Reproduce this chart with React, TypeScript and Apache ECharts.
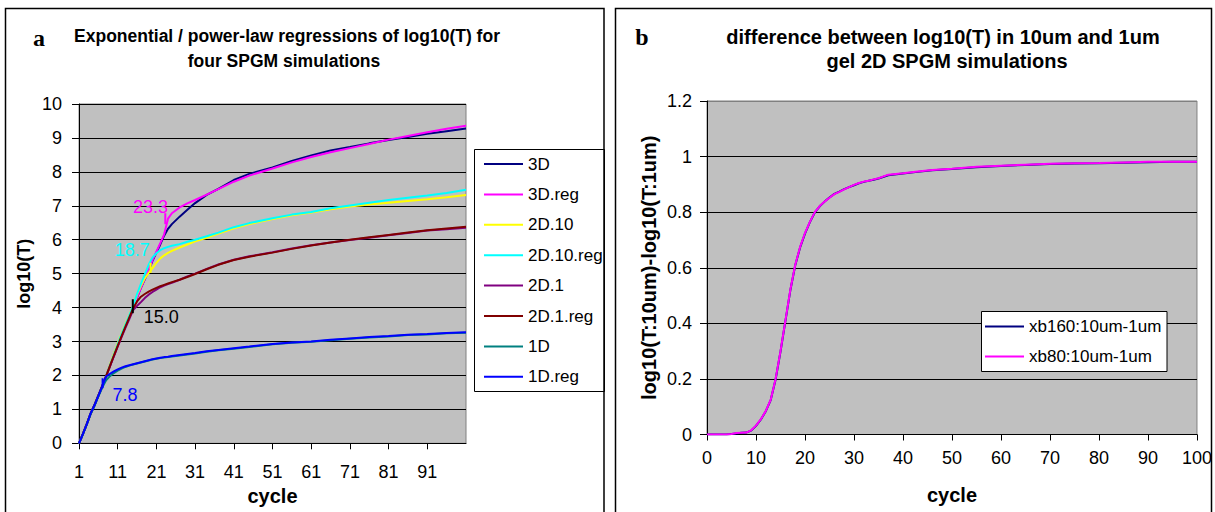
import React, { useEffect, useRef } from "react";
import * as echarts from "echarts";

const FONT = "Liberation Sans";

// ---------- Panel a ----------
const cyclesA = [1, 2, 3, 4, 5, 6, 7, 8, 9, 10, 11, 12, 13, 14, 15, 16, 17, 18, 19, 20, 21, 22, 23, 24, 25, 27, 29, 31, 34, 37, 41, 45, 51, 56, 61, 66, 71, 76, 81, 86, 91, 96, 101];

const s3D = [0, 0.27, 0.56, 0.88, 1.12, 1.4, 1.68, 1.97, 2.28, 2.58, 2.88, 3.17, 3.45, 3.72, 4.0, 4.3, 4.58, 4.83, 5.08, 5.38, 5.62, 5.86, 6.12, 6.32, 6.46, 6.68, 6.88, 7.08, 7.32, 7.5, 7.76, 7.94, 8.13, 8.32, 8.48, 8.63, 8.73, 8.84, 8.94, 9.03, 9.12, 9.2, 9.28];
const s3Dreg = [0, 0.28, 0.57, 0.87, 1.13, 1.41, 1.69, 1.98, 2.28, 2.58, 2.87, 3.16, 3.45, 3.73, 4.02, 4.3, 4.58, 4.85, 5.12, 5.4, 5.65, 5.9, 6.16, 6.62, 6.78, 6.95, 7.07, 7.17, 7.33, 7.49, 7.71, 7.89, 8.1, 8.28, 8.44, 8.58, 8.7, 8.82, 8.95, 9.06, 9.17, 9.27, 9.36];
const s2D10 = [0, 0.27, 0.56, 0.88, 1.12, 1.4, 1.68, 1.98, 2.32, 2.64, 2.95, 3.24, 3.52, 3.78, 4.05, 4.38, 4.64, 4.86, 5.02, 5.16, 5.32, 5.45, 5.54, 5.61, 5.67, 5.77, 5.86, 5.95, 6.06, 6.18, 6.34, 6.46, 6.61, 6.72, 6.8, 6.9, 6.98, 7.04, 7.09, 7.14, 7.19, 7.25, 7.32];
const s2D10reg = [0, 0.28, 0.57, 0.87, 1.13, 1.41, 1.69, 1.98, 2.3, 2.61, 2.92, 3.22, 3.5, 3.77, 4.05, 4.4, 4.7, 4.98, 5.26, 5.48, 5.6, 5.69, 5.75, 5.79, 5.82, 5.87, 5.94, 6.0, 6.1, 6.21, 6.37, 6.49, 6.63, 6.74, 6.82, 6.93, 7.01, 7.09, 7.17, 7.24, 7.3, 7.38, 7.47];
const s2D1 = [0, 0.27, 0.56, 0.88, 1.12, 1.4, 1.68, 1.97, 2.27, 2.56, 2.85, 3.13, 3.4, 3.66, 3.93, 4.05, 4.16, 4.28, 4.38, 4.46, 4.53, 4.6, 4.65, 4.69, 4.73, 4.82, 4.92, 5.0, 5.14, 5.27, 5.41, 5.51, 5.63, 5.74, 5.84, 5.92, 5.99, 6.06, 6.13, 6.2, 6.27, 6.31, 6.35];
const s2D1reg = [0, 0.28, 0.57, 0.87, 1.13, 1.41, 1.69, 1.98, 2.28, 2.58, 2.87, 3.16, 3.44, 3.71, 3.98, 4.18, 4.32, 4.4, 4.47, 4.53, 4.58, 4.63, 4.67, 4.71, 4.75, 4.82, 4.9, 4.99, 5.13, 5.26, 5.4, 5.5, 5.62, 5.73, 5.83, 5.92, 6.0, 6.07, 6.14, 6.21, 6.28, 6.33, 6.38];
const s1D = [0, 0.26, 0.55, 0.86, 1.1, 1.38, 1.64, 1.86, 1.98, 2.07, 2.14, 2.2, 2.25, 2.29, 2.32, 2.35, 2.38, 2.41, 2.44, 2.47, 2.49, 2.51, 2.53, 2.54, 2.56, 2.59, 2.62, 2.65, 2.7, 2.74, 2.79, 2.84, 2.92, 2.96, 2.99, 3.04, 3.08, 3.12, 3.15, 3.19, 3.21, 3.24, 3.26];
const s1Dreg = [0, 0.27, 0.56, 0.88, 1.12, 1.4, 1.68, 1.97, 2.05, 2.12, 2.18, 2.23, 2.27, 2.3, 2.33, 2.36, 2.39, 2.42, 2.45, 2.48, 2.5, 2.52, 2.54, 2.55, 2.57, 2.6, 2.63, 2.66, 2.71, 2.75, 2.8, 2.85, 2.93, 2.97, 3.0, 3.05, 3.09, 3.13, 3.16, 3.2, 3.22, 3.25, 3.27];

const namesA = ["3D", "3D.reg", "2D.10", "2D.10.reg", "2D.1", "2D.1.reg", "1D", "1D.reg"];
const colorsA = ["#000080", "#FF00FF", "#FFFF00", "#00FFFF", "#800080", "#800000", "#008080", "#0000FF"];
const valuesA = [s3D, s3Dreg, s2D10, s2D10reg, s2D1, s2D1reg, s1D, s1Dreg];

// threshold annotations: [series index, cycle, value, label, tick colour, label colour]
const notesA: [number, number, number, string, string, string][] = [
  [1, 23.3, 6.62, "23.3", "#FF00FF", "#FF00FF"],
  [2, 19.5, 5.17, "18.7", "#FFFF00", "#00FFFF"],
  [5, 14.9, 4.04, "15.0", "#000000", "#000000"],
  [7, 7.1, 1.77, "7.8", "#0000FF", "#0000FF"],
];

// ---------- Panel b ----------
const cyclesB = [0, 1, 2, 3, 4, 5, 6, 7, 8, 9, 10, 11, 12, 13, 14, 15, 16, 17, 18, 19, 20, 21, 22, 23, 24, 25, 26, 27, 28, 29, 30, 31, 32, 33, 34, 35, 37, 40, 43, 46, 50, 55, 60, 65, 70, 75, 80, 85, 90, 95, 100];
const xb160 = [0, 0, 0, 0, 0, 0.002, 0.004, 0.006, 0.007, 0.014, 0.031, 0.054, 0.084, 0.124, 0.198, 0.298, 0.408, 0.518, 0.608, 0.673, 0.723, 0.764, 0.799, 0.821, 0.838, 0.853, 0.866, 0.874, 0.883, 0.89, 0.897, 0.904, 0.909, 0.913, 0.917, 0.921, 0.933, 0.939, 0.945, 0.951, 0.955, 0.962, 0.966, 0.97, 0.973, 0.975, 0.976, 0.978, 0.98, 0.981, 0.981];
const xb80 = [0, 0, 0, 0, 0, 0.002, 0.005, 0.006, 0.007, 0.015, 0.032, 0.055, 0.085, 0.125, 0.2, 0.3, 0.41, 0.52, 0.61, 0.675, 0.725, 0.765, 0.8, 0.822, 0.838, 0.852, 0.865, 0.873, 0.882, 0.89, 0.898, 0.905, 0.91, 0.913, 0.918, 0.922, 0.935, 0.94, 0.946, 0.952, 0.956, 0.963, 0.967, 0.971, 0.974, 0.976, 0.977, 0.979, 0.981, 0.981, 0.981];
const namesB = ["xb160:10um-1um", "xb80:10um-1um"];
const colorsB = ["#000080", "#FF00FF"];
const valuesB = [xb160, xb80];

const zip = (xs: number[], ys: number[]) => xs.map((x, i) => [x, ys[i]]);

function labelPos(label: string): any {
  // label placement relative to the tick mark
  switch (label) {
    case "23.3":
      return { size: [2, 11], position: [3.8, -6.5], align: "right" };
    case "18.7":
      return { size: [2, 10], position: [0.3, -13], align: "right" };
    case "15.0":
      return { size: [2, 14], position: [12, 17.7], align: "left" };
    default:
      return { size: [2, 10], position: [11, 16.7], align: "left" };
  }
}

function buildOption(): any {
  const axisCommon = {
    axisLine: { show: true, onZero: false, lineStyle: { color: "#000", width: 1 } },
    axisTick: { show: true, length: 6, lineStyle: { color: "#000" } },
  };
  const labelStyle = { fontSize: 18, color: "#000", fontFamily: FONT };
  const nameStyleX = { fontSize: 20, fontWeight: "bold", color: "#000", fontFamily: FONT };

  const seriesA = namesA.map((name, i) => {
    const notes = notesA.filter((n) => n[0] === i);
    const s: any = {
      name,
      type: "line",
      xAxisIndex: 0,
      yAxisIndex: 0,
      data: zip(cyclesA, valuesA[i]),
      symbol: "none",
      showSymbol: false,
      color: colorsA[i],
      lineStyle: { width: 2, color: colorsA[i] },
      z: 2,
    };
    if (notes.length) {
      s.markPoint = {
        silent: true,
        data: notes.map((n) => {
          const p = labelPos(n[3]);
          return {
            coord: [n[1], n[2]],
            symbol: "rect",
            symbolSize: p.size,
            itemStyle: { color: n[4] },
            label: {
              show: true,
              formatter: n[3],
              position: p.position,
              align: p.align,
              verticalAlign: "middle",
              color: n[5],
              fontSize: 18,
              fontFamily: FONT,
            },
          };
        }),
      };
    }
    return s;
  });

  const seriesB = namesB.map((name, i) => ({
    name,
    type: "line",
    xAxisIndex: 1,
    yAxisIndex: 1,
    data: zip(cyclesB, valuesB[i]),
    symbol: "none",
    showSymbol: false,
    color: colorsB[i],
    lineStyle: { width: 2, color: colorsB[i] },
  }));

  const txt = (text: string, x: number, y: number, font: string) => ({
    type: "text",
    x,
    y,
    z: 20,
    style: {
      text,
      font,
      fill: "#000",
      align: "center",
      verticalAlign: "middle",
      textAlign: "center",
      textVerticalAlign: "middle",
    },
  });

  return {
    animation: false,
    backgroundColor: "#ffffff",
    textStyle: { fontFamily: FONT },
    grid: [
      { left: 79, top: 104, width: 387, height: 339.3, show: true, backgroundColor: "#C0C0C0", borderColor: "#808080", borderWidth: 1 },
      { left: 707, top: 101, width: 494, height: 333.5, show: true, backgroundColor: "#C0C0C0", borderColor: "#808080", borderWidth: 1 },
    ],
    xAxis: [
      {
        type: "value",
        gridIndex: 0,
        min: 1,
        max: 101,
        interval: 10,
        ...axisCommon,
        axisLabel: { ...labelStyle, margin: 19.5, showMaxLabel: false },
        splitLine: { show: false },
        name: "cycle",
        nameLocation: "middle",
        nameGap: 42,
        nameTextStyle: nameStyleX,
      },
      {
        type: "value",
        gridIndex: 1,
        min: 0,
        max: 100,
        interval: 10,
        ...axisCommon,
        axisLabel: { ...labelStyle, margin: 14.5 },
        splitLine: { show: false },
        name: "cycle",
        nameLocation: "middle",
        nameGap: 50,
        nameTextStyle: nameStyleX,
      },
    ],
    yAxis: [
      {
        type: "value",
        gridIndex: 0,
        min: 0,
        max: 10,
        interval: 1,
        ...axisCommon,
        axisTick: { show: true, length: 7, lineStyle: { color: "#000" } },
        axisLabel: { ...labelStyle, margin: 17 },
        splitLine: { show: true, lineStyle: { color: "#000", width: 1 } },
        name: "log10(T)",
        nameLocation: "middle",
        nameRotate: 90,
        nameGap: 46,
        nameTextStyle: { fontSize: 18, fontWeight: "bold", color: "#000", fontFamily: FONT },
      },
      {
        type: "value",
        gridIndex: 1,
        min: 0,
        max: 1.2,
        interval: 0.2,
        ...axisCommon,
        axisTick: { show: true, length: 7, lineStyle: { color: "#000" } },
        axisLabel: { ...labelStyle, margin: 15 },
        splitLine: {
          show: true,
          lineStyle: { color: ["#000", "#000", "#000", "#000", "#000", "#000", "#808080"], width: 1 },
        },
        name: "log10(T:10um)-log10(T:1um)",
        nameLocation: "middle",
        nameRotate: 90,
        nameGap: 48,
        nameTextStyle: { fontSize: 20, fontWeight: "bold", color: "#000", fontFamily: FONT },
      },
    ],
    legend: [
      {
        data: namesA,
        orient: "vertical",
        left: 484,
        top: 155,
        padding: 0,
        itemWidth: 39,
        itemHeight: 2,
        icon: "rect",
        itemGap: 12.4,
        selectedMode: false,
        z: 10,
        textStyle: { fontSize: 17, lineHeight: 18, color: "#000", fontFamily: FONT },
      },
      {
        data: namesB,
        orient: "vertical",
        left: 985,
        top: 317.5,
        padding: 0,
        itemWidth: 39,
        itemHeight: 2,
        icon: "rect",
        itemGap: 12,
        selectedMode: false,
        z: 10,
        textStyle: { fontSize: 17, lineHeight: 18, color: "#000", fontFamily: FONT },
      },
    ],
    graphic: [
      { type: "rect", z: 1, shape: { x: 474.5, y: 149.5, width: 130, height: 242 }, style: { fill: "#fff", stroke: "#000", lineWidth: 1 } },
      { type: "rect", z: 1, shape: { x: 981.5, y: 311.5, width: 185.5, height: 60 }, style: { fill: "#fff", stroke: "#000", lineWidth: 1 } },
      { type: "rect", z: 30, shape: { x: 5.5, y: 8.5, width: 598.5, height: 520 }, style: { fill: "none", stroke: "#000", lineWidth: 1.5 } },
      { type: "rect", z: 30, shape: { x: 615.5, y: 8.5, width: 596, height: 520 }, style: { fill: "none", stroke: "#000", lineWidth: 1.5 } },
      txt("a", 39, 38, 'bold 24px "Liberation Serif"'),
      txt("b", 642, 37, 'bold 24px "Liberation Serif"'),
      txt("Exponential / power-law regressions of log10(T) for", 287, 36, `bold 17.5px "${FONT}"`),
      txt("four SPGM simulations", 284, 61, `bold 17.5px "${FONT}"`),
      txt("difference between log10(T) in 10um and 1um", 943, 37, `bold 20px "${FONT}"`),
      txt("gel 2D SPGM simulations", 947, 61, `bold 20px "${FONT}"`),
    ],
    series: [...seriesA, ...seriesB],
  };
}

export default function App() {
  const ref = useRef<HTMLDivElement>(null);
  useEffect(() => {
    if (!ref.current) return;
    const chart = echarts.init(ref.current, undefined, { renderer: "svg" });
    chart.setOption(buildOption());
    return () => chart.dispose();
  }, []);
  return (
    <div
      ref={ref}
      style={{ position: "absolute", left: 0, top: 0, width: 1215, height: 512, background: "#fff" }}
    />
  );
}
